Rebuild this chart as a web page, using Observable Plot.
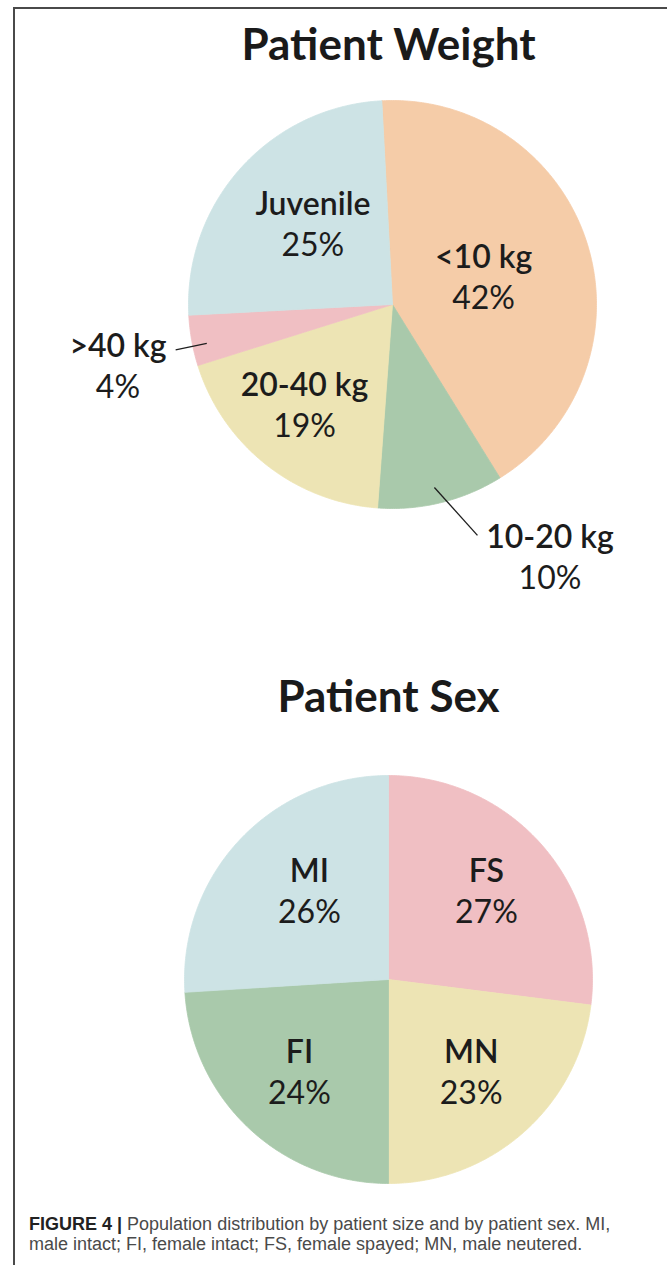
<!DOCTYPE html>
<html><head><meta charset="utf-8">
<script src="https://cdn.jsdelivr.net/npm/d3@7"></script>
<script src="https://cdn.jsdelivr.net/npm/@observablehq/plot@0.6"></script>
<style>
html,body{margin:0;padding:0;background:#fff;}
body{width:667px;height:1265px;position:relative;overflow:hidden;font-family:Lato,sans-serif;}
#frame{position:absolute;left:13px;top:7px;right:-5px;bottom:-5px;border-left:2px solid #4a4a4a;border-top:2px solid #4a4a4a;}
#w{position:absolute;left:0;top:0;}
#s{position:absolute;left:0;top:620px;}
#cap{position:absolute;left:29px;top:1214px;width:636px;font-family:"Liberation Sans",Arial,sans-serif;font-size:18px;line-height:20px;color:#4a4a4a;white-space:nowrap;}
#cap b{color:#222;}
</style></head><body>
<div id="frame"></div>
<div id="w"></div><div id="s"></div>
<div id="cap"><b>FIGURE 4 |</b><span> Population distribution by patient size and by patient sex. MI,</span><br><span>male intact; FI, female intact; FS, female spayed; MN, male neutered.</span></div>
<script>
// ---- data ----
const weightCategories = ["<10 kg", "10-20 kg", "20-40 kg", ">40 kg", "Juvenile"];
const weightValues = [42, 10, 19, 4, 25];
const sexCategories = ["FS", "MN", "FI", "MI"];
const sexValues = [27, 23, 24, 26];

// ---- style ----
const palette = {
  "<10 kg": "#f5cca8", "10-20 kg": "#a9c9ab", "20-40 kg": "#ede4b4", ">40 kg": "#f0bfc3", "Juvenile": "#cde3e5",
  "FS": "#f0bfc3", "MN": "#ede4b4", "FI": "#a9c9ab", "MI": "#cde3e5"
};
// label placement (radius as fraction of pie radius, rotation in degrees from slice middle)
const weightLabelLayout = {
  "<10 kg": {r: 0.465, rot: 1.2}, "10-20 kg": {r: 1.465, rot: -18, leader: [0.92, 1.206, 0.9, -6.4]},
  "20-40 kg": {r: 0.66, rot: 2.4}, ">40 kg": {r: 1.38, rot: -2.6, leader: [0.93, 1.086, -1.6, -1.6]},
  "Juvenile": {r: 0.55, rot: 2.8}
};
const sexLabelLayout = {"FS": {r: 0.644, rot: -0.4}, "MN": {r: 0.613}, "FI": {r: 0.633, rot: 0.4}, "MI": {r: 0.578, rot: 4.7}};

const FONT = "Lato, 'Noto Sans', sans-serif";
const rad = d => d * Math.PI / 180;
const px = (r, a) => r * Math.sin(rad(a));
const py = (r, a) => r * Math.cos(rad(a));

function slices(cats, vals, start) {
  const total = d3.sum(vals);
  let a = start;
  return cats.map((c, i) => {
    const a0 = a, a1 = a + vals[i] / total * 360; a = a1;
    return {cat: c, value: vals[i], a0, a1, mid: (a0 + a1) / 2};
  });
}
function polygon(s) {
  const pts = [{x: 0, y: 0}];
  const n = Math.max(4, Math.ceil((s.a1 - s.a0) * 2));
  for (let k = 0; k <= n; k++) {
    const a = s.a0 + (s.a1 - s.a0) * k / n;
    pts.push({x: px(1, a), y: py(1, a)});
  }
  pts.push({x: 0, y: 0});
  return pts;
}

function pie({cats, vals, start, layout, title, titleDy, titleDx, width, height, cx, cy, r}) {
  const sl = slices(cats, vals, start);
  const labels = sl.map(s => {
    const L = layout[s.cat]; const a = s.mid + (L.rot || 0);
    return {...s, lx: px(L.r, a), ly: py(L.r, a)};
  });
  const leaders = sl.filter(s => layout[s.cat].leader).map(s => {
    const [r1, r2, o1, o2] = layout[s.cat].leader;
    return {x1: px(r1, s.mid + o1), y1: py(r1, s.mid + o1), x2: px(r2, s.mid + o2), y2: py(r2, s.mid + o2)};
  });
  return Plot.plot({
    width, height,
    marginLeft: cx - r, marginRight: width - cx - r,
    marginTop: cy - r, marginBottom: height - cy - r,
    x: {domain: [-1, 1], axis: null},
    y: {domain: [-1, 1], axis: null},
    style: {fontFamily: FONT, background: "transparent", overflow: "visible"},
    marks: [
      ...sl.map(s => Plot.line(polygon(s), {x: "x", y: "y", fill: palette[s.cat], stroke: palette[s.cat], strokeWidth: 0.8, curve: "linear"})),
      Plot.link(leaders, {x1: "x1", y1: "y1", x2: "x2", y2: "y2", stroke: "#1e1e1e", strokeWidth: 1.3}),
      Plot.text(labels, {x: "lx", y: "ly", text: "cat", dy: -20.5, fontSize: 32, fontWeight: 600, fill: "#1c1c1c", fontFamily: FONT}),
      Plot.text(labels, {x: "lx", y: "ly", text: d => d.value + "%", dy: 20.5, fontSize: 32, fontWeight: 400, fill: "#1c1c1c", fontFamily: FONT}),
      Plot.text([title], {frameAnchor: "top", lineAnchor: "middle", dy: titleDy, dx: titleDx, fontSize: 44, fontWeight: 700, fill: "#1a1a1a", fontFamily: FONT})
    ]
  });
}

document.getElementById("w").append(pie({
  cats: weightCategories, vals: weightValues, start: -3, layout: weightLabelLayout,
  title: "Patient Weight", titleDy: -55, titleDx: -4, width: 667, height: 620, cx: 392, cy: 304, r: 204
}));
document.getElementById("s").append(pie({
  cats: sexCategories, vals: sexValues, start: 0, layout: sexLabelLayout,
  title: "Patient Sex", titleDy: -78, titleDx: 0, width: 667, height: 580, cx: 388, cy: 359, r: 204
}));
</script>
</body></html>
